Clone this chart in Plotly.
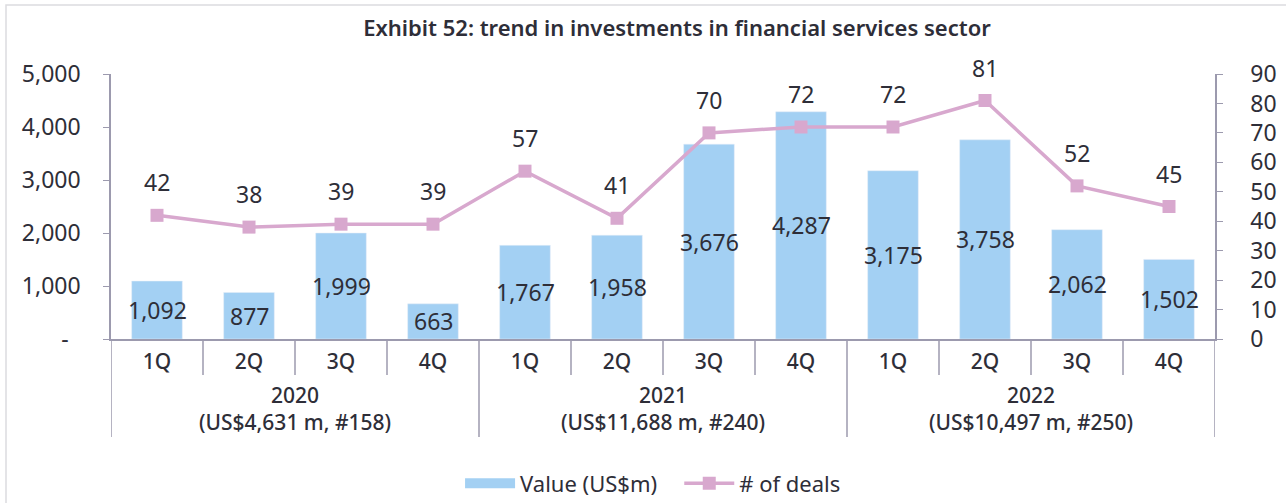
import plotly.graph_objects as go

# ---- data ----
years = ["2020", "2021", "2022"]
year_notes = ["(US$4,631 m, #158)", "(US$11,688 m, #240)", "(US$10,497 m, #250)"]
quarters = ["1Q", "2Q", "3Q", "4Q"] * 3
values = [1092, 877, 1999, 663, 1767, 1958, 3676, 4287, 3175, 3758, 2062, 1502]
deals = [42, 38, 39, 39, 57, 41, 70, 72, 72, 81, 52, 45]
left_ticks = [0, 1000, 2000, 3000, 4000, 5000]
left_ticktext = ["-\u00a0\u00a0", "1,000", "2,000", "3,000", "4,000", "5,000"]
right_ticks = list(range(0, 91, 10))

title = "Exhibit 52: trend in investments in financial services sector"

BAR = "#A3D0F3"
LINE = "#D8A8CE"
TXT = "#2E2E38"
AX = "#9C9AAE"
FONT = "Noto Sans"

x = list(range(len(values)))

fig = go.Figure()
fig.add_trace(go.Bar(x=x, y=values, name="Value (US$m)", marker_color=BAR,
                     width=0.55, yaxis="y", showlegend=False))
# legend swatch for the bars (wide rectangle like the original)
fig.add_trace(go.Scatter(x=[None], y=[None], name="Value (US$m)\u00a0\u00a0\u00a0", mode="lines",
                         line=dict(color=BAR, width=13), showlegend=True))
fig.add_trace(go.Scatter(x=x, y=deals, name="# of deals", yaxis="y2",
                         mode="lines+markers",
                         line=dict(color=LINE, width=3.5),
                         marker=dict(symbol="square", size=13, color=LINE)))

ann = []
for i, v in enumerate(values):
    ann.append(dict(x=i, y=v / 2, xref="x", yref="y", text=f"{v:,}",
                    showarrow=False, font=dict(size=23, color=TXT, family=FONT)))
for i, d in enumerate(deals):
    ann.append(dict(x=i, y=d, xref="x", yref="y2", text=str(d), yshift=33,
                    showarrow=False, font=dict(size=23, color=TXT, family=FONT)))
for g, (yr, note) in enumerate(zip(years, year_notes)):
    ann.append(dict(x=g * 4 + 1.5, y=-0.262, xref="x", yref="paper",
                    text=f"{yr}<br>{note}", showarrow=False, yanchor="middle",
                    font=dict(size=21, color=TXT, family=FONT, weight=500)))

shapes = []
for b in range(1, len(values)):
    is_group = (b % 4 == 0)
    shapes.append(dict(type="line", xref="x", yref="paper", x0=b - 0.5, x1=b - 0.5,
                       y0=0, y1=(-0.37 if is_group else -0.136),
                       line=dict(color=AX, width=1.5)))
for xb in [-0.5, len(values) - 0.5]:
    shapes.append(dict(type="line", xref="x", yref="paper", x0=xb, x1=xb,
                       y0=0, y1=-0.37, line=dict(color=AX, width=1.5)))
shapes.append(dict(type="rect", xref="paper", yref="paper",
                   x0=(6 - 111) / 1104, x1=(1300 - 111) / 1104,
                   y0=(339 - 520) / 265, y1=(339 - 5) / 265,
                   line=dict(color="#DCDCE0", width=1.5), layer="below"))

fig.update_layout(
    width=1286, height=503,
    margin=dict(l=111, r=71, t=74, b=164, autoexpand=False),
    paper_bgcolor="white", plot_bgcolor="white",
    font=dict(family=FONT, color=TXT),
    title=dict(text=title, x=677 / 1286, xanchor="center", y=1 - 28 / 503,
               yanchor="middle",
               font=dict(size=22, color=TXT, family=FONT, weight=600)),
    xaxis=dict(range=[-0.5, len(values) - 0.5], tickvals=x, ticktext=quarters,
               showgrid=False, zeroline=False, showline=True, linecolor=AX,
               linewidth=1.5, ticks="", ticklabelstandoff=3,
               tickfont=dict(size=21, color=TXT, family=FONT, weight=500)),
    yaxis=dict(range=[0, 5000], tickvals=left_ticks, ticktext=left_ticktext,
               showgrid=False, zeroline=False, showline=True, linecolor=AX,
               linewidth=1.5, ticks="outside", ticklen=6, tickcolor=AX,
               ticklabelstandoff=18,
               tickfont=dict(size=23, color=TXT, family=FONT)),
    yaxis2=dict(range=[0, 90], tickvals=right_ticks, overlaying="y", side="right",
                showgrid=False, zeroline=False, showline=True, linecolor=AX,
                linewidth=1.5, ticks="outside", ticklen=6, tickcolor=AX,
                ticklabelstandoff=23,
                tickfont=dict(size=23, color=TXT, family=FONT)),
    legend=dict(orientation="h", x=0.491, xanchor="center", y=-0.545,
                yanchor="middle", font=dict(size=22, color=TXT, family=FONT),
                itemwidth=50, bgcolor="rgba(0,0,0,0)", tracegroupgap=0),
    annotations=ann, shapes=shapes, bargap=0.45,
)

fig.write_html("out.html", config={"displayModeBar": False},
               post_script="document.body.style.margin='0';document.body.style.padding='0';")
